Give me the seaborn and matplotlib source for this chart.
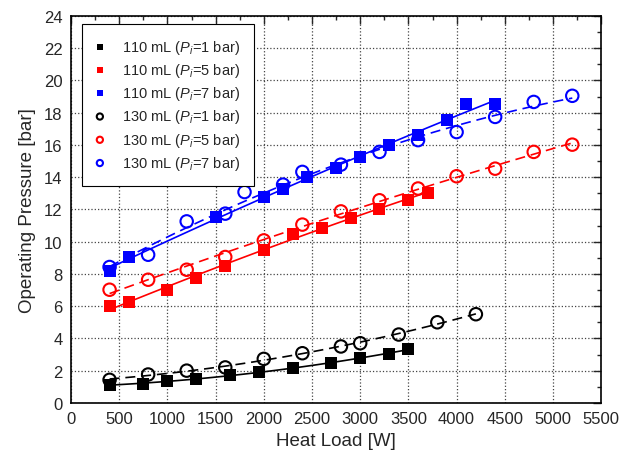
import numpy as np
import pandas as pd
import matplotlib
matplotlib.use("Agg")
import matplotlib.pyplot as plt
from matplotlib.ticker import MultipleLocator
import seaborn as sns

# ====================================
# Data
# ====================================
w_110_1 = [400, 750, 1000, 1300, 1650, 1950, 2300, 2700, 3000, 3300, 3500]
p_110_1 = [1.1, 1.2, 1.35, 1.5, 1.7, 1.9, 2.17, 2.45, 2.8, 3.05, 3.35]

w_110_5 = [400, 600, 1000, 1300, 1600, 2000, 2300, 2600, 2900, 3200, 3500, 3700]
p_110_5 = [6.0, 6.25, 7.0, 7.75, 8.5, 9.46, 10.5, 10.85, 11.5, 12.05, 12.57, 13.04]

w_110_7 = [400, 600, 1500, 2000, 2200, 2450, 2750, 3000, 3300, 3600, 3900, 4100, 4400]
p_110_7 = [8.2, 9.05, 11.53, 12.78, 13.25, 14.0, 14.58, 15.26, 16.0, 16.6, 17.53, 18.57, 18.57]

w_130_1 = [400, 800, 1200, 1600, 2000, 2400, 2800, 3000, 3400, 3800, 4200]
p_130_1 = [1.43, 1.76, 2.0, 2.2, 2.73, 3.08, 3.5, 3.7, 4.24, 5.0, 5.5]

w_130_5 = [400, 800, 1200, 1600, 2000, 2400, 2800, 3200, 3600, 4000, 4400, 4800, 5200]
p_130_5 = [7.02, 7.64, 8.26, 9.05, 10.08, 11.06, 11.88, 12.57, 13.3, 14.06, 14.53, 15.57, 16.02]

w_130_7 = [400, 800, 1200, 1600, 1800, 2200, 2400, 2800, 3200, 3600, 4000, 4400, 4800, 5200]
p_130_7 = [8.43, 9.19, 11.26, 11.74, 13.08, 13.54, 14.33, 14.78, 15.57, 16.3, 16.8, 17.74, 18.67, 19.05]

labels = [
    r"110 mL ($P_i$=1 bar)",
    r"110 mL ($P_i$=5 bar)",
    r"110 mL ($P_i$=7 bar)",
    r"130 mL ($P_i$=1 bar)",
    r"130 mL ($P_i$=5 bar)",
    r"130 mL ($P_i$=7 bar)",
]

series = [
    (w_110_1, p_110_1, "black", True),
    (w_110_5, p_110_5, "#ff0000", True),
    (w_110_7, p_110_7, "#0000ff", True),
    (w_130_1, p_130_1, "black", False),
    (w_130_5, p_130_5, "#ff0000", False),
    (w_130_7, p_130_7, "#0000ff", False),
]

# ====================================
# Style
# ====================================
sns.set_style("white")
plt.rcParams["font.family"] = ["Liberation Sans", "DejaVu Sans"]
plt.rcParams["mathtext.fontset"] = "custom"
plt.rcParams["mathtext.rm"] = "Liberation Sans"
plt.rcParams["mathtext.it"] = "Liberation Sans:italic"

fig = plt.figure(figsize=(6.23, 4.60), dpi=100)
ax = fig.add_axes([0.114, 0.122, 0.851, 0.841])

# ====================================
# Fit lines + markers
# ====================================
for (w, p, color, filled), lab in zip(series, labels):
    df = pd.DataFrame({"W": w, "P": p})
    sns.regplot(data=df, x="W", y="P", order=2, ci=None, scatter=False, ax=ax,
                line_kws=dict(color=color, lw=1.2,
                              ls="-" if filled else (0, (6, 3.5))))

for (w, p, color, filled), lab in zip(series, labels):
    df = pd.DataFrame({"W": w, "P": p})
    if filled:
        sns.scatterplot(data=df, x="W", y="P", marker="s", s=66, color=color,
                        edgecolor=color, linewidth=0, label=lab, ax=ax, zorder=3)
    else:
        sns.scatterplot(data=df, x="W", y="P", marker="o", s=80, facecolor="none",
                        edgecolor=color, linewidth=1.5, label=lab, ax=ax, zorder=3)

# ====================================
# Axes
# ====================================
ax.set_xlim(0, 5500)
ax.set_ylim(0, 24)
ax.xaxis.set_major_locator(MultipleLocator(500))
ax.xaxis.set_minor_locator(MultipleLocator(250))
ax.yaxis.set_major_locator(MultipleLocator(2))
ax.yaxis.set_minor_locator(MultipleLocator(1))
ax.tick_params(which="both", direction="in", top=True, right=True, width=1)
ax.tick_params(which="major", length=6, labelsize=12, pad=6)
ax.tick_params(which="minor", length=3)
for sp in ax.spines.values():
    sp.set_color("black")
    sp.set_linewidth(1.2)
ax.grid(True, which="major", ls=":", color="#444444", lw=0.9)
ax.set_axisbelow(True)

ax.set_xlabel("Heat Load [W]", fontsize=13.5, labelpad=4)
ax.set_ylabel("Operating Pressure [bar]", fontsize=13.5, labelpad=6)

leg = ax.legend(loc="upper left", bbox_to_anchor=(0.02, 0.98), fontsize=10.5,
                markerscale=0.5, frameon=True, fancybox=False, edgecolor="black",
                framealpha=1, borderpad=0.95, labelspacing=0.36, handlelength=0.6,
                handletextpad=1.25, borderaxespad=0)
leg.get_frame().set_linewidth(0.8)

fig.savefig("out.png", dpi=100)
